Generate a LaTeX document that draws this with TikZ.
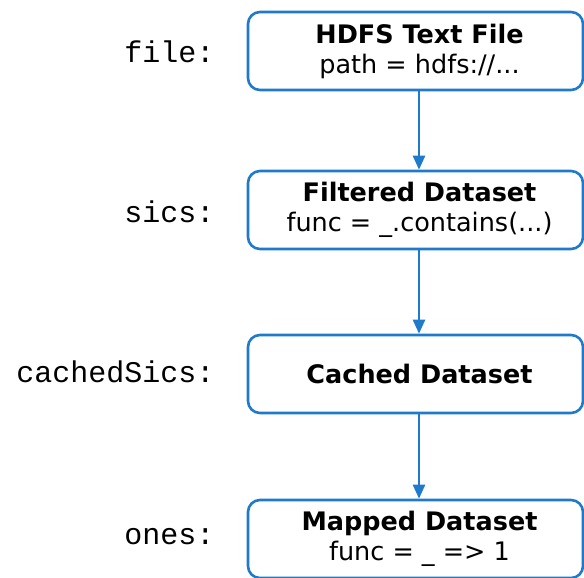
\documentclass[tikz,border=0pt]{standalone}
\usepackage{fontspec}
\setmainfont{DejaVu Sans}
\newfontfamily\codefont{Liberation Mono}
\usetikzlibrary{arrows.meta}
\definecolor{boxblue}{HTML}{1F7ACB}
\newcommand{\boxfont}{\fontsize{25.5pt}{30pt}\selectfont}
\newcommand{\labelfont}{\codefont\fontsize{30pt}{31pt}\selectfont}
\newcommand{\sh}{\hspace*{8pt}}
\tikzset{
  dsbox/.style={draw=boxblue, line width=2.6pt, rounded corners=12pt, fill=white,
    minimum width=335pt, minimum height=78pt, align=center, inner sep=0pt,
    font=\boxfont},
  varlabel/.style={anchor=east, font=\labelfont},
  flow/.style={draw=boxblue, line width=2.4pt, -{Triangle[length=14pt,width=12pt]}}
}
\begin{document}
\begin{tikzpicture}[x=1pt,y=-1pt]
\useasboundingbox (0,0) rectangle (584,578);
\node[dsbox] (hdfs) at (415.5,51) {\sh\textbf{HDFS Text File}\\\sh path = hdfs://...};
\node[dsbox] (filt) at (415.5,210) {\sh\textbf{Filtered Dataset}\\\sh func = \_.contains(...)};
\node[dsbox] (cache) at (415.5,374) {\sh\textbf{Cached Dataset}};
\node[dsbox] (mapped) at (415.5,539) {\sh\textbf{Mapped Dataset}\\\sh func = \_ => 1};
\node[varlabel] (lfile) at (218,52) {file:};
\node[varlabel] (lsics) at (218,212) {sics:};
\node[varlabel] (lcached) at (218,372) {cachedSics:};
\node[varlabel] (lones) at (218,537) {ones:};
\draw[flow] (hdfs.south -| 419,0) -- (filt.north -| 419,0);
\draw[flow] (filt.south -| 419,0) -- (cache.north -| 419,0);
\draw[flow] (cache.south -| 419,0) -- (mapped.north -| 419,0);
\end{tikzpicture}
\end{document}
